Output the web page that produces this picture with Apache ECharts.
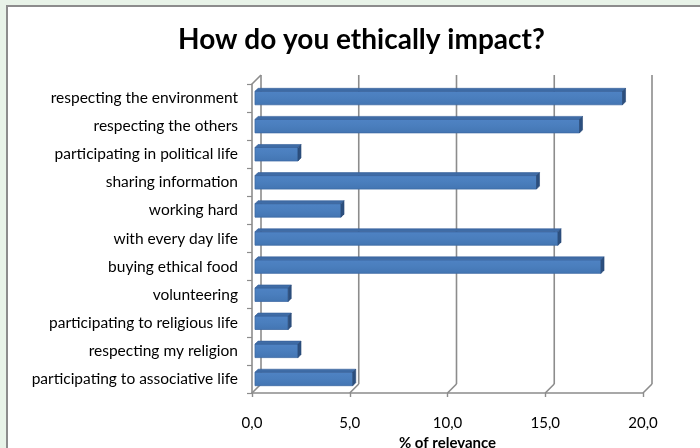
<!DOCTYPE html>
<html>
<head>
<meta charset="utf-8">
<script src="https://cdn.jsdelivr.net/npm/echarts@6/dist/echarts.min.js"></script>
<style>
  html, body { margin: 0; padding: 0; width: 700px; height: 448px; overflow: hidden; background: #e8f3e8; }
  #frame { position: absolute; left: 6px; top: 5px; width: 730px; height: 470px; background: #ffffff; border-left: 2px solid #8c8c8c; border-top: 2px solid #8c8c8c; }
  #chart { position: absolute; left: 0; top: 0; width: 700px; height: 448px; }
</style>
</head>
<body>
<div id="frame"></div>
<div id="chart"></div>
<script>
const categories = [
  'respecting the environment',
  'respecting the others',
  'participating in political life',
  'sharing information',
  'working hard',
  'with every day life',
  'buying ethical food',
  'volunteering',
  'participating to religious life',
  'respecting my religion',
  'participating to associative life'
];
const relevance = [18.8, 16.6, 2.2, 14.4, 4.4, 15.5, 17.7, 1.7, 1.7, 2.2, 5.0];
const xTicks = [0, 5, 10, 15, 20];

const FONT = 'Lato, "Open Sans", "DejaVu Sans", sans-serif';
const GRID_COLOR = '#8c8c8c';
const DEPTH = 9;      // wall depth in px
const BAR_SHIFT = 3;  // bar front face offset into depth
const BAR_DEPTH = 3;

const chart = echarts.init(document.getElementById('chart'), null, { renderer: 'canvas' });

function renderFrame(params, api) {
  const cs = params.coordSys;
  const top = cs.y, bottom = cs.y + cs.height, left = cs.x;
  const children = [];
  const ls = { stroke: GRID_COLOR, lineWidth: 1.6 };
  xTicks.forEach(function (t) {
    const x = api.coord([t, 0])[0];
    children.push({ type: 'line', shape: { x1: x + DEPTH, y1: top - DEPTH, x2: x + DEPTH, y2: bottom - DEPTH }, style: ls });
    children.push({ type: 'line', shape: { x1: x, y1: bottom, x2: x + DEPTH, y2: bottom - DEPTH }, style: ls });
  });
  children.push({ type: 'line', shape: { x1: left, y1: top, x2: left + DEPTH, y2: top - DEPTH }, style: ls });
  return { type: 'group', children: children };
}

function renderBar(params, api) {
  const idx = api.value(1);
  const p0 = api.coord([0, idx]);
  const p1 = api.coord([api.value(0), idx]);
  const band = api.size([0, 1])[1];
  const h = band * 0.48;
  const x0 = p0[0] + BAR_SHIFT, x1 = p1[0] + BAR_SHIFT;
  const yt = p0[1] - h / 2, yb = p0[1] + h / 2;
  const d = BAR_DEPTH;
  return {
    type: 'group',
    children: [
      { type: 'rect', shape: { x: x0, y: yt, width: x1 - x0, height: h },
        style: { fill: new echarts.graphic.LinearGradient(0, 0, 0, 1, [
          { offset: 0, color: '#4f83c4' }, { offset: 0.5, color: '#4a7ebd' }, { offset: 1, color: '#4375b2' }]),
          stroke: '#3d6aa3', lineWidth: 0.8 } },
      { type: 'polygon', shape: { points: [[x0, yt], [x0 + d, yt - d], [x1 + d, yt - d], [x1, yt]] },
        style: { fill: '#3f6ca6', stroke: '#36609a', lineWidth: 0.6 } },
      { type: 'polygon', shape: { points: [[x1, yt], [x1 + d, yt - d], [x1 + d, yb - d], [x1, yb]] },
        style: { fill: '#2c4f7e', stroke: '#2a4a77', lineWidth: 0.6 } }
    ]
  };
}

chart.setOption({
  animation: false,
  backgroundColor: 'transparent',
  title: {
    text: 'How do you ethically impact?',
    left: 178,
    top: 26,
    padding: 0,
    textStyle: { fontFamily: FONT, fontSize: 28, fontWeight: 'bold', color: '#000' }
  },
  grid: { left: 252, right: 57, top: 84, bottom: 55, outerBoundsMode: 'none', containLabel: false },
  xAxis: {
    type: 'value', min: 0, max: 20, interval: 5,
    axisLine: { show: true, lineStyle: { color: GRID_COLOR, width: 1.6 } },
    axisTick: { show: true, length: 4, lineStyle: { color: GRID_COLOR, width: 1.4 } },
    splitLine: { show: false },
    axisLabel: { margin: 23, fontFamily: FONT, fontSize: 15, color: '#000',
      formatter: function (v) { return v.toFixed(1).replace('.', ','); } },
    name: '% of relevance', nameLocation: 'middle', nameGap: 30,
    nameTextStyle: { fontFamily: FONT, fontSize: 15, fontWeight: 'bold', color: '#000', verticalAlign: 'top' }
  },
  yAxis: {
    type: 'category', data: categories, inverse: true,
    axisLine: { show: true, lineStyle: { color: GRID_COLOR, width: 1.6 } },
    axisTick: { show: true, length: 5, lineStyle: { color: GRID_COLOR, width: 1.2 } },
    axisLabel: { margin: 14, fontFamily: FONT, fontSize: 15.5, color: '#000' }
  },
  series: [
    { type: 'custom', name: 'frame', renderItem: renderFrame, data: [[0, 0]], clip: false, silent: true, z: 1 },
    { type: 'custom', name: 'relevance', renderItem: renderBar, clip: false, z: 3,
      encode: { x: 0, y: 1 },
      data: relevance.map(function (v, i) { return [v, i]; }) }
  ]
});
</script>
</body>
</html>
